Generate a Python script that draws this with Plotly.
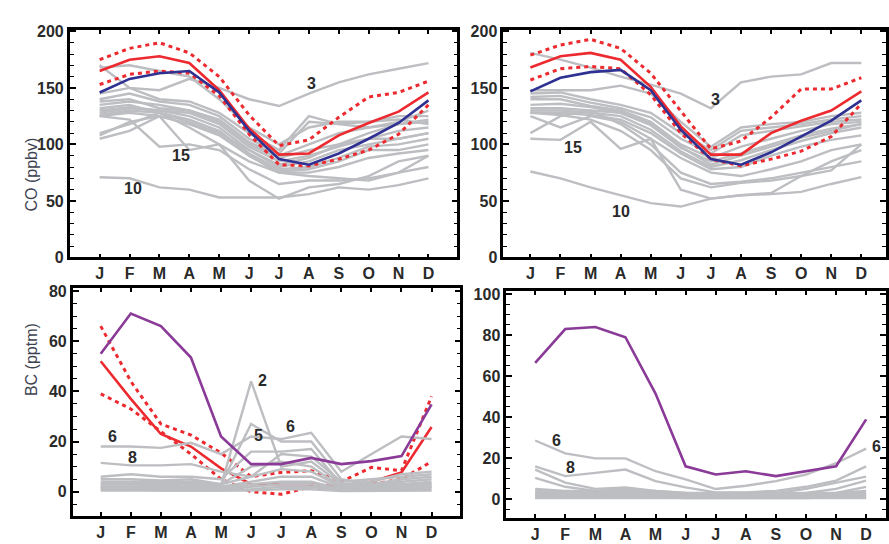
import plotly.graph_objects as go

months = ["J", "F", "M", "A", "M", "J", "J", "A", "S", "O", "N", "D"]
mi = list(range(12))

# ---------------- CO, left panel ----------------
co_l_red = [165, 175, 178, 172, 148, 114, 91, 92, 108, 119, 129, 146]
co_l_red_hi = [175, 185, 190, 181, 160, 126, 99, 104, 124, 142, 146, 156]
co_l_red_lo = [153, 162, 165, 163, 143, 109, 82, 81, 87, 95, 109, 135]
co_l_blue = [146, 158, 163, 165, 146, 112, 87, 82, 92, 105, 119, 139]
co_l_gray = [
    [170, 150, 148, 158, 150, 140, 134, 145, 155, 162, 167, 172],
    [168, 170, 165, 160, 140, 115, 100, 115, 120, 120, 125, 125],
    [145, 150, 140, 138, 128, 110, 95, 125, 118, 115, 118, 120],
    [140, 145, 138, 135, 125, 105, 92, 120, 118, 120, 122, 118],
    [138, 140, 132, 130, 120, 100, 88, 95, 100, 110, 118, 122],
    [130, 133, 130, 128, 118, 98, 85, 90, 98, 105, 112, 115],
    [128, 132, 130, 125, 115, 95, 80, 85, 95, 100, 105, 110],
    [126, 130, 128, 122, 112, 92, 78, 80, 88, 98, 100, 105],
    [125, 128, 125, 118, 108, 90, 76, 78, 85, 95, 95, 100],
    [110, 118, 128, 115, 100, 85, 75, 75, 80, 88, 92, 95],
    [105, 112, 125, 95, 100, 68, 52, 62, 65, 72, 85, 90],
    [108, 120, 125, 118, 110, 90, 75, 72, 70, 68, 75, 90],
    [71, 70, 62, 60, 53, 53, 53, 56, 62, 60, 64, 70],
    [125, 122, 98, 100, 95, 78, 65, 68, 68, 70, 75, 80],
    [135, 138, 135, 130, 122, 102, 90, 100, 110, 115, 120, 130],
    [132, 135, 128, 120, 110, 95, 82, 88, 100, 105, 105, 110],
]
co_l_labels = [("3", 7.1, 154), ("15", 2.73, 90), ("10", 1.1, 61)]

# ---------------- CO, right panel ----------------
co_r_red = [168, 178, 181, 175, 151, 116, 91, 91, 110, 121, 130, 147]
co_r_red_hi = [179, 188, 193, 185, 163, 130, 96, 103, 124, 149, 149, 159]
co_r_red_lo = [157, 167, 169, 167, 144, 110, 87, 81, 87, 94, 107, 136]
co_r_blue = [147, 159, 164, 166, 148, 113, 87, 82, 93, 107, 121, 139]
co_r_gray = [
    [181, 175, 168, 160, 153, 145, 132, 155, 160, 162, 172, 172],
    [148, 148, 148, 152, 145, 120, 98, 115, 118, 120, 125, 128],
    [145, 146, 140, 135, 128, 110, 95, 112, 115, 118, 122, 125],
    [142, 143, 137, 132, 124, 105, 92, 108, 112, 116, 120, 122],
    [140, 140, 134, 130, 120, 100, 88, 98, 105, 112, 118, 120],
    [132, 132, 130, 128, 117, 97, 85, 92, 100, 108, 114, 118],
    [130, 130, 128, 125, 113, 94, 80, 86, 95, 103, 110, 115],
    [128, 128, 126, 122, 110, 92, 78, 80, 90, 98, 104, 108],
    [125, 115, 125, 120, 105, 88, 75, 72, 78, 85, 95, 100],
    [110, 125, 130, 118, 100, 75, 65, 67, 70, 75, 80, 85],
    [105, 104, 120, 96, 105, 60, 52, 55, 57, 72, 77, 100],
    [76, 70, 62, 55, 48, 45, 52, 55, 56, 58, 65, 71],
    [128, 126, 122, 112, 95, 70, 62, 66, 68, 72, 85, 95],
    [135, 136, 133, 128, 118, 98, 82, 90, 98, 106, 112, 118],
]
co_r_labels = [("3", 6.16, 140), ("15", 1.42, 97), ("10", 3.0, 41)]

# ---------------- BC, left panel ----------------
bc_l_purple = [55, 71, 66, 53.5, 22, 11, 11, 13.5, 11, 12.2, 14.2, 34.8]
bc_l_red = [52, 37, 23, 18, 9.3, 3, 3, 3, 2, 4, 7.7, 25.8]
bc_l_red_hi = [66, 44, 27, 22.6, 15.5, 6, 7.7, 8.4, 4, 9.7, 8.4, 38]
bc_l_red_lo = [39, 33, 24, 15, 5, 0, -1, 2, 1, 3, 5, 12]
bc_l_gray = [
    [18, 18, 17.5, 19.5, 15, 22, 21, 23.5, 8, 15, 22, 21],
    [11.5, 10.5, 10.5, 11, 8, 6, 15, 14, 4, 5, 6, 7],
    [2, 2, 2, 2, 2.5, 44, 10, 12, 3, 2, 2, 2],
    [3, 3, 3, 3, 3, 27, 20, 20, 5, 3, 3, 3],
    [6, 7, 6, 6, 5, 16, 16, 17, 3, 4, 7, 8],
    [5, 5, 4.5, 5, 3, 10, 12, 10, 2, 3, 5, 6],
    [4, 4, 4, 4, 3, 6, 9, 8, 2, 3, 4, 5],
    [3, 3, 2.5, 3, 2, 4, 6, 6, 1.5, 2, 3, 4],
    [2, 2, 1.5, 2, 1.5, 3, 4, 4, 1, 1.5, 2, 3],
    [1.5, 1.5, 1, 1, 1, 2, 3, 3, 1, 1, 1.5, 2],
    [1, 1, 0.5, 0.5, 0.5, 1, 2, 2, 0.5, 0.5, 1, 1],
    [0.5, 0.5, 0.3, 0.3, 0.3, 0.5, 1, 1, 0.3, 0.3, 0.5, 0.5],
]
bc_l_labels = [("2", 5.37, 44.5), ("5", 5.25, 22.6), ("6", 6.32, 26.2),
               ("6", 0.4, 22.2), ("8", 1.07, 13.5)]

# ---------------- BC, right panel ----------------
bc_r_purple = [66.5, 83, 84, 79, 51.5, 16, 12, 13.6, 11.2, 13.6, 16, 38.9]
bc_r_gray = [
    [28.6, 22.3, 19.9, 19.9, 13.6, 9.6, 4.9, 6.5, 8.8, 12, 17.5, 24.6],
    [16, 11.2, 12.8, 14.4, 8.8, 5.7, 3.3, 3.3, 4, 6, 9, 16],
    [14.4, 8, 5, 5.7, 4, 3, 2, 2, 3, 5, 8, 11],
    [10.4, 6, 4, 5, 3, 2, 1.5, 2, 2, 3, 5, 9],
    [5, 4, 4, 4, 4, 3, 3, 3, 3, 3, 3, 6],
    [4, 3.5, 3, 3.5, 3, 2.5, 2.5, 2.5, 2.5, 2.5, 3, 4],
    [3, 3, 2.5, 2.5, 2.5, 2, 2, 2, 2, 2, 2.5, 3],
    [2.5, 2, 2, 2, 2, 1.5, 1.5, 1.5, 1.5, 1.5, 2, 2.5],
    [2, 1.5, 1.5, 1.5, 1.5, 1, 1, 1, 1, 1, 1.5, 2],
    [1, 1, 1, 1, 1, 0.5, 0.5, 0.5, 0.5, 0.5, 1, 1],
    [0.5, 0.5, 0.3, 0.3, 0.3, 0.2, 0.2, 0.2, 0.2, 0.2, 0.5, 0.5],
]
bc_r_labels = [("6", 0.7, 28.6), ("8", 1.17, 15.6), ("6", 11.33, 25.7)]

GRAY = "#BDBEC1"
RED = "#EC2A2F"
BLUE = "#2E3192"
PURPLE = "#8A3A97"
FONT = "Liberation Sans"
TXT = "#2a2a2a"

W, H = 889, 544
fig = go.Figure()


def add(xa, ya, y, color, width=2.6, dash=None):
    fig.add_trace(go.Scatter(x=mi, y=y, xaxis=xa, yaxis=ya, mode="lines",
                             line=dict(color=color, width=width, dash=dash),
                             showlegend=False, hoverinfo="skip"))


DOT = "4px,4px"
# panel 1
for g in co_l_gray:
    add("x", "y", g, GRAY, 2.4)
add("x", "y", co_l_red_hi, RED, 3, DOT)
add("x", "y", co_l_red_lo, RED, 3, DOT)
add("x", "y", co_l_red, RED)
add("x", "y", co_l_blue, BLUE)
# panel 2
for g in co_r_gray:
    add("x2", "y2", g, GRAY, 2.4)
add("x2", "y2", co_r_red_hi, RED, 3, DOT)
add("x2", "y2", co_r_red_lo, RED, 3, DOT)
add("x2", "y2", co_r_red, RED)
add("x2", "y2", co_r_blue, BLUE)
# panel 3 (red drawn beneath the gray station lines)
add("x3", "y3", bc_l_red_hi, RED, 3, DOT)
add("x3", "y3", bc_l_red_lo, RED, 3, DOT)
add("x3", "y3", bc_l_red, RED)
for g in bc_l_gray:
    add("x3", "y3", g, GRAY, 2.4)
add("x3", "y3", bc_l_purple, PURPLE)
# panel 4
for g in bc_r_gray:
    add("x4", "y4", g, GRAY, 2.4)
add("x4", "y4", bc_r_purple, PURPLE)


def px(v):
    return v / W


def py(v):
    return 1 - v / H


TICKFONT = dict(family=FONT, size=16, color=TXT, weight="bold")


def xaxis(dom, rng, anchor):
    return dict(domain=dom, range=rng, anchor=anchor, tickmode="array",
                tickvals=mi, ticktext=months, ticks="inside", ticklen=4,
                tickwidth=1.5, tickcolor="black", showline=True, linewidth=2.6,
                linecolor="black", mirror="ticks", showgrid=False, zeroline=False,
                tickfont=TICKFONT)


def yaxis(dom, rng, anchor, dtick, mdt):
    return dict(domain=dom, range=rng, anchor=anchor, dtick=dtick, tick0=0,
                ticks="inside", ticklen=6, tickwidth=1.5, tickcolor="black",
                minor=dict(dtick=mdt, tick0=0, ticks="inside", ticklen=4,
                           tickwidth=1.2, tickcolor="black"),
                showline=True, linewidth=2.6, linecolor="black", mirror="ticks",
                showgrid=False, zeroline=False, tickfont=TICKFONT)


fig.update_layout(
    width=W, height=H, margin=dict(l=0, r=0, t=0, b=0),
    paper_bgcolor="white", plot_bgcolor="white",
    xaxis=xaxis([px(70), px(459)], [-1, 11.97], "y"),
    yaxis=yaxis([py(258), py(24)], [0, 201], "x", 50, 10),
    xaxis2=xaxis([px(505), 1], [-0.9, 11.82], "y2"),
    yaxis2=yaxis([py(258), py(24)], [0, 201], "x2", 50, 10),
    xaxis3=xaxis([px(73), px(462)], [-0.93, 11.96], "y3"),
    yaxis3=yaxis([py(524), py(290)], [-9.5, 81], "x3", 20, 5),
    xaxis4=xaxis([px(508), 1], [-0.96, 11.66], "y4"),
    yaxis4=yaxis([py(526), py(293)], [-9, 101.4], "x4", 20, 5),
)

anns = []
for lst, xa, ya in [(co_l_labels, "x", "y"), (co_r_labels, "x2", "y2"),
                    (bc_l_labels, "x3", "y3"), (bc_r_labels, "x4", "y4")]:
    for t, x, y in lst:
        anns.append(dict(text=t, x=x, y=y, xref=xa, yref=ya, showarrow=False,
                         font=dict(family=FONT, size=16, color=TXT, weight="bold")))
anns.append(dict(text="CO (ppbv)", x=px(21), y=py(132), xref="paper", yref="paper",
                 textangle=-90, showarrow=False,
                 font=dict(family=FONT, size=16, color="#3d4250")))
anns.append(dict(text="BC (pptm)", x=px(21), y=py(403), xref="paper", yref="paper",
                 textangle=-90, showarrow=False,
                 font=dict(family=FONT, size=16, color="#3d4250")))
fig.update_layout(annotations=anns)

fig.write_html("out.html")
